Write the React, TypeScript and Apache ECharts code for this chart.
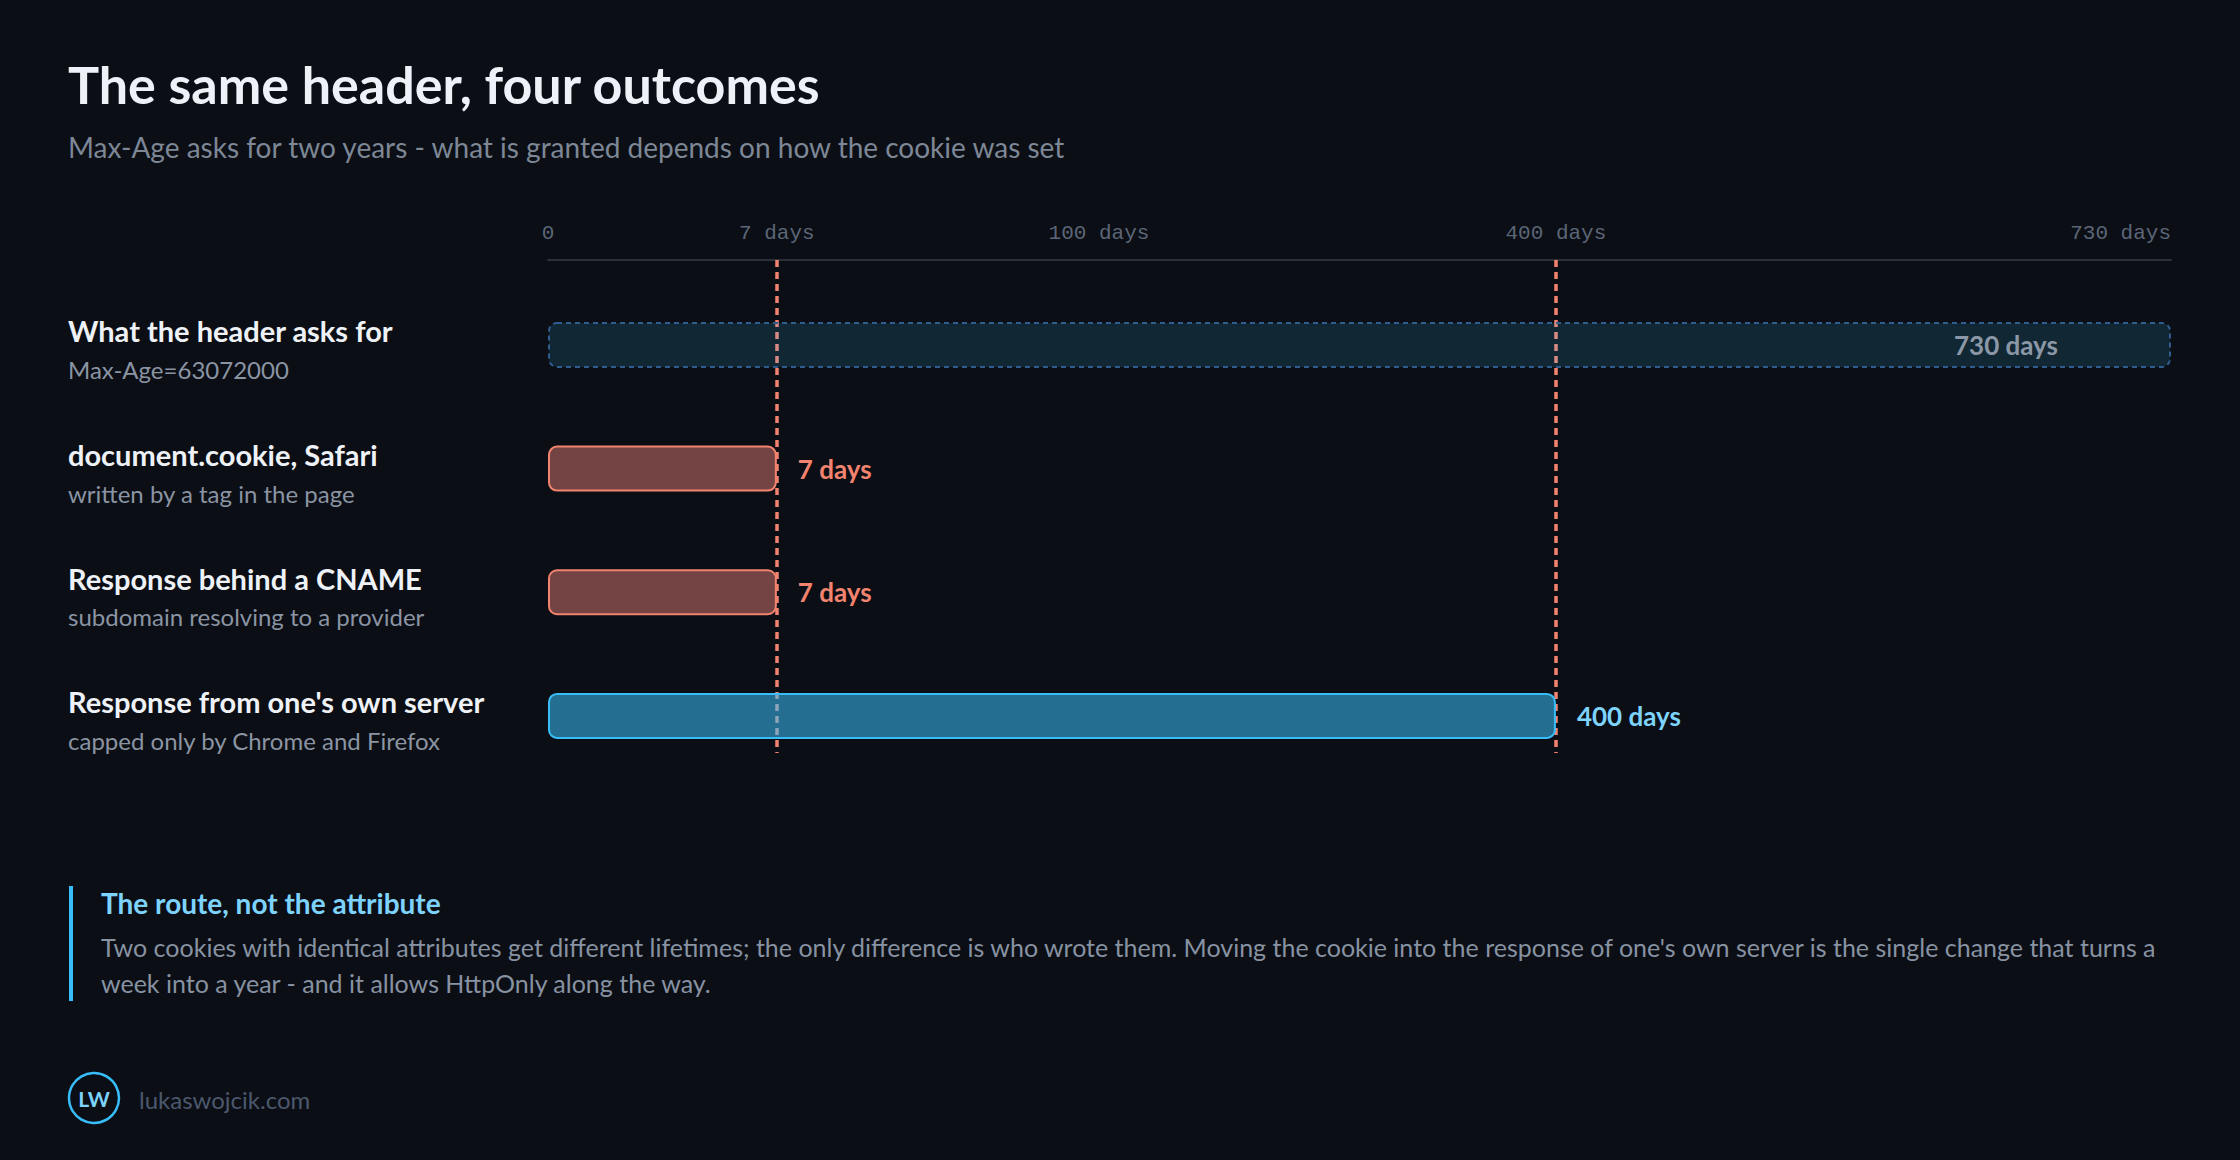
import { useEffect, useRef } from 'react';
import * as echarts from 'echarts';

const rowTitles = [
  'What the header asks for',
  'document.cookie, Safari',
  'Response behind a CNAME',
  "Response from one's own server",
];
const rowNotes = [
  'Max-Age=63072000',
  'written by a tag in the page',
  'subdomain resolving to a provider',
  'capped only by Chrome and Firefox',
];
const rowDays = [730, 7, 7, 400];
const rowKinds = ['ask', 'cap', 'cap', 'own'];

// the axis is not linear: each tick sits at its own share of the width
const tickDays = [0, 7, 100, 400, 730];
const tickShare = [0, 14.1, 33.95, 62.1, 100];
const tickLabels = ['0', '7 days', '100 days', '400 days', '730 days'];
const capDays = [7, 400];

const noteLines = [
  "Two cookies with identical attributes get different lifetimes; the only difference is who wrote them. Moving the cookie into the response of one's own server is the single change that turns a",
  'week into a year - and it allows HttpOnly along the way.',
];

const FONT = 'Lato, "Noto Sans", sans-serif';
const MONO = '"Liberation Mono", "DejaVu Sans Mono", monospace';

const toAxis = (d: number) => {
  for (let i = 1; i < tickDays.length; i++) {
    if (d <= tickDays[i]) {
      const t = (d - tickDays[i - 1]) / (tickDays[i] - tickDays[i - 1]);
      return tickShare[i - 1] + t * (tickShare[i] - tickShare[i - 1]);
    }
  }
  return 100;
};

const barStyles: Record<string, any> = {
  ask: { fill: 'rgba(56,189,248,0.14)', stroke: '#2f5d8f', lineDash: [5, 4], text: '#8b97a6' },
  cap: { fill: 'rgba(242,135,125,0.45)', stroke: '#f2836f', lineDash: null, text: '#f2836f' },
  own: { fill: 'rgba(56,189,248,0.55)', stroke: '#38bdf8', lineDash: null, text: '#7dd3fc' },
};

const App: React.FC = () => {
  const divRef = useRef<HTMLDivElement | null>(null);

  useEffect(() => {
    if (!divRef.current) return;
    document.body.style.margin = '0';
    document.body.style.background = '#0b0e14';

    const chart = echarts.init(divRef.current, null, { renderer: 'svg' });
    const options: any = {
      animation: false,
      backgroundColor: '#0b0e14',
      grid: { left: 548, right: 69, top: 260, bottom: 407, outerBoundsMode: 'none' },
      xAxis: {
        type: 'value',
        position: 'top',
        min: 0,
        max: 100,
        axisLine: { show: true, onZero: false, lineStyle: { color: '#2b313b', width: 2 } },
        axisTick: { show: false },
        splitLine: { show: false },
        axisLabel: {
          customValues: tickDays.map(toAxis),
          formatter: (v: number) => {
            const i = tickShare.findIndex((p) => Math.abs(p - v) < 1e-6);
            return i >= 0 ? tickLabels[i] : '';
          },
          alignMaxLabel: 'right',
          margin: 16,
          color: '#5b6678',
          fontFamily: MONO,
          fontSize: 21,
        },
      },
      yAxis: {
        type: 'value',
        inverse: true,
        min: -0.687,
        max: 3.3,
        axisLine: { show: false },
        axisTick: { show: false },
        splitLine: { show: false },
        axisLabel: {
          customValues: [0, 1, 2, 3],
          formatter: (v: number) => `{t|${rowTitles[v]}}\n{s|${rowNotes[v]}}`,
          align: 'left',
          margin: 480,
          rich: {
            t: { fontFamily: FONT, fontSize: 29, fontWeight: 700, color: '#eef2f7', lineHeight: 49 },
            s: { fontFamily: FONT, fontSize: 24, color: '#8a94a3', lineHeight: 28 },
          },
        },
      },
      series: [
        {
          type: 'custom',
          z: 3,
          clip: false,
          encode: { x: 0, y: 1 },
          data: rowDays.map((d, i) => [toAxis(d), i, d]),
          renderItem: (params: any, api: any) => {
            const i = params.dataIndex;
            const st = barStyles[rowKinds[i]];
            const row = api.value(1);
            const s = api.coord([0, row]);
            const e = api.coord([api.value(0), row]);
            const h = 44;
            const label =
              rowKinds[i] === 'ask'
                ? { x: e[0] - 113, y: e[1], align: 'right' }
                : { x: e[0] + 21, y: e[1], align: 'left' };
            return {
              type: 'group',
              children: [
                {
                  type: 'rect',
                  shape: { x: s[0] + 1, y: s[1] - h / 2, width: e[0] - s[0] - 2, height: h, r: 8 },
                  style: {
                    fill: st.fill,
                    stroke: st.stroke,
                    lineWidth: 2,
                    lineDash: st.lineDash,
                  },
                },
                {
                  type: 'text',
                  x: label.x,
                  y: label.y,
                  style: {
                    text: `${rowDays[i]} days`,
                    fill: st.text,
                    fontFamily: FONT,
                    fontWeight: 700,
                    fontSize: 26,
                    align: label.align,
                    verticalAlign: 'middle',
                  },
                },
              ],
            };
          },
          markLine: {
            silent: true,
            z: 1,
            symbol: 'none',
            label: { show: false },
            lineStyle: { color: '#f2836f', width: 3.5, type: [7, 5], opacity: 1 },
            data: capDays.map((d) => ({ xAxis: toAxis(d) })),
          },
        },
      ],
      graphic: [
        {
          type: 'text',
          x: 68,
          y: 84,
          style: {
            text: 'The same header, four outcomes',
            fill: '#eef2f8',
            fontFamily: FONT,
            fontWeight: 700,
            fontSize: 52,
            verticalAlign: 'middle',
          },
        },
        {
          type: 'text',
          x: 68,
          y: 147,
          style: {
            text: 'Max-Age asks for two years - what is granted depends on how the cookie was set',
            fill: '#7d8796',
            fontFamily: FONT,
            fontSize: 28,
            verticalAlign: 'middle',
          },
        },
        {
          type: 'rect',
          shape: { x: 69, y: 886, width: 4, height: 115 },
          style: { fill: '#38bdf8' },
        },
        {
          type: 'text',
          x: 101,
          y: 903,
          style: {
            text: 'The route, not the attribute',
            fill: '#7dd3fc',
            fontFamily: FONT,
            fontWeight: 700,
            fontSize: 28,
            verticalAlign: 'middle',
          },
        },
        ...noteLines.map((line, i) => ({
          type: 'text',
          x: 101,
          y: 947 + i * 36,
          style: {
            text: line,
            fill: '#8792a2',
            fontFamily: FONT,
            fontSize: 25,
            verticalAlign: 'middle',
          },
        })),
        {
          type: 'circle',
          shape: { cx: 94, cy: 1098, r: 25 },
          style: { fill: 'none', stroke: '#38bdf8', lineWidth: 2.5 },
        },
        {
          type: 'text',
          x: 94,
          y: 1098,
          style: {
            text: 'LW',
            fill: '#7dd3fc',
            fontFamily: FONT,
            fontWeight: 700,
            fontSize: 21,
            align: 'center',
            verticalAlign: 'middle',
          },
        },
        {
          type: 'text',
          x: 139,
          y: 1099,
          style: {
            text: 'lukaswojcik.com',
            fill: '#4b586d',
            fontFamily: FONT,
            fontSize: 24,
            verticalAlign: 'middle',
          },
        },
      ],
    };
    chart.setOption(options);

    return () => chart.dispose();
  }, []);

  return (
    <div
      ref={divRef}
      style={{ position: 'fixed', left: 0, top: 0, width: 2240, height: 1160 }}
    />
  );
};

export default App;
